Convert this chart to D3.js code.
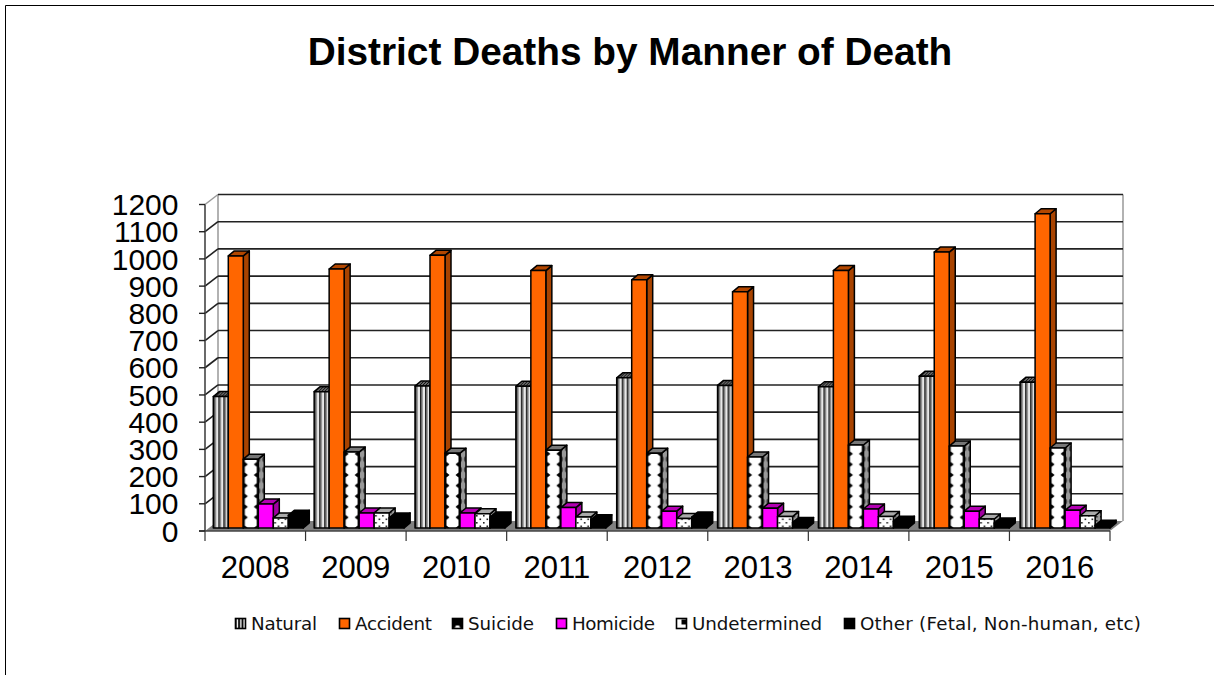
<!DOCTYPE html>
<html><head><meta charset="utf-8">
<script src="https://cdn.jsdelivr.net/npm/d3@7"></script>
<style>html,body{margin:0;padding:0;background:#fff}svg{display:block}</style></head>
<body><svg id="c" width="1214" height="675"></svg>
<script>
const years = ["2008","2009","2010","2011","2012","2013","2014","2015","2016"];
const seriesNames = ["Natural","Accident","Suicide","Homicide","Undetermined","Other (Fetal, Non-human, etc)"];
const natural = [483,501,522,521,552,524,519,558,536];
const accident = [1000,952,1002,946,912,868,946,1014,1155];
const suicide = [253,279,275,286,275,261,305,301,294];
const homicide = [88,55,55,75,62,73,70,62,65];
const undetermined = [37,55,52,40,35,42,42,33,45];
const other = [47,37,40,30,40,20,25,18,10];
const yTicks = d3.range(0,1201,100);
const allSeries = [natural,accident,suicide,homicide,undetermined,other];

const svg = d3.select("#c");
const defs = svg.append("defs");
function pat(id,w,h,bg,draw){
  const p = defs.append("pattern").attr("id",id).attr("patternUnits","userSpaceOnUse").attr("width",w).attr("height",h);
  p.append("rect").attr("width",w).attr("height",h).attr("fill",bg);
  draw(p);
}
pat("stripe",5,5,"#e8e8e8",p=>{
  p.append("rect").attr("width",1.7).attr("height",5).attr("fill","#222");
  p.append("rect").attr("x",1.7).attr("width",1.1).attr("height",5).attr("fill","#888");
});
pat("stripeTop",3,3,"#666",p=>p.append("path").attr("d","M0,3L3,0").attr("stroke","#111").attr("stroke-width",1));
pat("stripeSide",3,3,"#777",p=>p.append("rect").attr("width",1).attr("height",3).attr("fill","#222"));
pat("diamond",15,10.6,"#000",p=>{
  p.append("path").attr("d","M7.5,0H4.5L1.5,2.5V8.1L4.5,10.6H10.5L13.5,8.1V2.5L10.5,0Z").attr("fill","#fff");
});
pat("diamondSide",6,10.6,"#999",p=>p.append("ellipse").attr("cx",3).attr("cy",5.3).attr("rx",2.2).attr("ry",3).attr("fill","#444"));
pat("dots",7,7,"#fff",p=>{
  p.append("rect").attr("x",1).attr("y",1).attr("width",1.6).attr("height",1.6).attr("fill","#222");
  p.append("rect").attr("x",4.5).attr("y",4.5).attr("width",1.6).attr("height",1.6).attr("fill","#222");
});
pat("dotsSide",4,4,"#999",p=>p.append("rect").attr("width",1.5).attr("height",1.5).attr("fill","#222"));
pat("legNatural",3.4,10,"#000",p=>p.append("rect").attr("x",1.2).attr("width",1.5).attr("height",10).attr("fill","#fff"));
pat("legSuicide",10,10,"#000",p=>p.append("path").attr("d","M2,10L3.5,7H6.5L8,10Z").attr("fill","#fff"));
pat("legUndet",10,10,"#fff",p=>p.append("rect").attr("x",5).attr("y",1).attr("width",5).attr("height",5).attr("fill","#000"));

const faces = [
 {front:"url(#stripe)",top:"url(#stripeTop)",side:"url(#stripeSide)",leg:"url(#legNatural)"},
 {front:"#ff6600",top:"#b34700",side:"#a84300",leg:"#ff6600"},
 {front:"url(#diamond)",top:"#777",side:"url(#diamondSide)",leg:"url(#legSuicide)"},
 {front:"#ff00ff",top:"#b300b3",side:"#a000a0",leg:"#ff00ff"},
 {front:"url(#dots)",top:"#aaa",side:"url(#dotsSide)",leg:"url(#legUndet)"},
 {front:"#000",top:"#000",side:"#000",leg:"#000"}
];

svg.append("path").attr("d","M1214,5.5H5.5V675").attr("fill","none").attr("stroke","#000").attr("stroke-width",1);

svg.append("text").attr("x",630).attr("y",65).attr("text-anchor","middle")
  .attr("font-family","'Liberation Sans',Arial,sans-serif").attr("font-weight","bold").attr("font-size",38.8)
  .text("District Deaths by Manner of Death");

const x = d3.scaleBand().domain(years).range([205,1110]);
const xBars = d3.scaleBand().domain(years).range([213.3,213.3+9*100.85]);
const y = d3.scaleLinear().domain([0,1200]).range([531,204.5]);
const dx = 13, dy = -10;

svg.append("path").attr("d",`M205,531L${205+dx},${531+dy}H${1110+dx}L1110,531Z`).attr("fill","#808080");
const wallLine = "#999";
svg.append("path").attr("d",`M${205+dx},${y(1200)+dy}V${y(0)+dy}`).attr("stroke",wallLine).attr("stroke-width",1.5).attr("fill","none");
svg.append("path").attr("d",`M${1110+dx},${y(1200)+dy}V${y(0)+dy}`).attr("stroke",wallLine).attr("stroke-width",1.5).attr("fill","none");
svg.append("path").attr("d",`M205,${y(1200)}L${205+dx},${y(1200)+dy}`).attr("stroke",wallLine).attr("stroke-width",1.5).attr("fill","none");
yTicks.filter(d=>d>0).forEach(d=>{
  svg.append("line").attr("x1",205+dx).attr("x2",1110+dx).attr("y1",y(d)+dy).attr("y2",y(d)+dy).attr("stroke","#222").attr("stroke-width",1.6);
  if(d<1200) svg.append("line").attr("x1",205).attr("x2",205+dx).attr("y1",y(d)).attr("y2",y(d)+dy).attr("stroke","#222").attr("stroke-width",1.6);
});

svg.append("path").attr("d",`M205,${y(1200)}V${y(0)}`).attr("stroke","#444").attr("stroke-width",1.6);
svg.append("path").attr("d",`M199,${y(0)}H1110`).attr("stroke","#444").attr("stroke-width",1.6);
yTicks.forEach(d=>svg.append("line").attr("x1",199).attr("x2",205).attr("y1",y(d)).attr("y2",y(d)).attr("stroke","#222").attr("stroke-width",1.4));
d3.range(0,10).forEach(i=>{
  const px = 205 + i*x.step();
  svg.append("line").attr("x1",px).attr("x2",px).attr("y1",y(0)).attr("y2",y(0)+10).attr("stroke","#333").attr("stroke-width",1.2);
});
const tickFont = "'Liberation Sans',Arial,sans-serif", legFont = "'DejaVu Sans',Verdana,sans-serif";
svg.append("g").selectAll("text").data(yTicks).join("text")
  .attr("x",178.5).attr("y",d=>y(d)+10.7).attr("text-anchor","end")
  .attr("font-family",tickFont).attr("font-size",30).text(d=>d);
svg.append("g").selectAll("text").data(years).join("text")
  .attr("x",d=>x(d)+x.bandwidth()/2).attr("y",578).attr("text-anchor","middle")
  .attr("font-family",tickFont).attr("font-size",31).text(d=>d);

const bw = 15;
const inner = d3.scaleBand().domain(d3.range(6)).range([0,bw*6]);
const bdx = 6, bdy = -5, baseShift = 3;
const gBars = svg.append("g").attr("stroke-linejoin","round");
years.forEach(yr=>{
  const yi = years.indexOf(yr);
  allSeries.forEach((vals,si)=>{
    const v = vals[yi], f = faces[si];
    const l = xBars(yr)+inner(si), b = y(0)-baseShift, h = b-(y(v)-baseShift);
    const g = gBars.append("g").attr("transform",`translate(${l},${b})`).attr("stroke","#000").attr("stroke-width",1.5);
    g.append("path").attr("d",`M${bw},${-h}l${bdx},${bdy}V${bdy}L${bw},0Z`).attr("fill",f.side);
    g.append("path").attr("d",`M0,${-h}l${bdx},${bdy}H${bw+bdx}L${bw},${-h}Z`).attr("fill",f.top);
    g.append("rect").attr("x",0).attr("y",-h).attr("width",bw).attr("height",h).attr("fill",f.front);
  });
});

const legendX = [235,339,452,556,676,844];
const legendWidths = [66,77,66,83,130,281];
const leg = svg.append("g").selectAll("g").data(seriesNames).join("g")
  .attr("transform",(d,i)=>`translate(${legendX[i]+0.5},618.5)`);
leg.append("rect").attr("width",10).attr("height",10)
  .attr("fill",(d,i)=>faces[i].leg).attr("stroke","#000").attr("stroke-width",1.6);
leg.append("text").attr("x",15.5).attr("y",11.5)
  .attr("textLength",(d,i)=>legendWidths[i]).attr("lengthAdjust","spacing")
  .attr("font-family",legFont).attr("font-size",18.3).attr("fill","#111").text(d=>d);
</script></body></html>
